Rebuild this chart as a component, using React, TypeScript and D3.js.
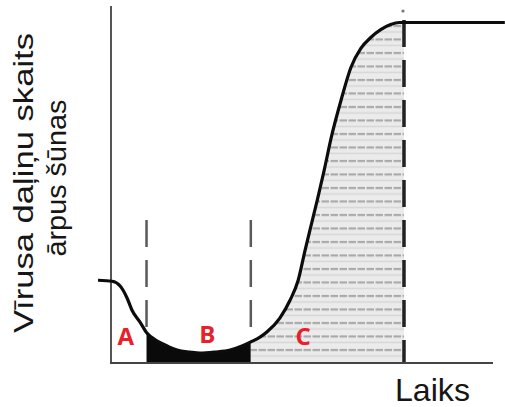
import React from "react";
import * as d3 from "d3";

// Time (x) and virus count outside the cell (y)
const timeValues = [-3.4, 0.3, 2.4, 4.2, 5.5, 7.6, 9.4, 12.0, 14.7, 17.3, 20.7, 23.3, 27.2, 31.2, 34.3, 36.6, 39.0, 40.8, 44.2, 46.9, 49.0, 50.8, 52.4, 54.0, 55.8, 57.8, 60.2, 62.8, 65.4, 68.0, 70.6, 73.2, 75.4, 103.1];
const countValues = [24.3, 24.0, 22.6, 19.1, 15.5, 12.0, 8.8, 6.5, 5.0, 3.8, 3.2, 2.9, 3.2, 3.8, 5.0, 6.2, 7.6, 9.1, 13.2, 18.5, 24.3, 33.1, 40.5, 47.8, 56.6, 66.9, 77.1, 86.8, 92.4, 95.6, 97.9, 99.4, 100, 100];

// Phase boundaries (time) and labels
const phaseNames = ["A", "B", "C"];
const phaseStarts = [0, 9.3, 36.6];
const phaseEnds = [9.3, 36.6, 76.7];
const labelTimes = [3.9, 25.2, 50.3];
const labelCounts = [5.3, 5.9, 5.3];

const yLabelLines = ["Vīrusa daļiņu skaits", "ārpus šūnas"];
const xLabel = "Laiks";

const W = 505;
const H = 407;

export default function App() {
  const x = d3.scaleLinear().domain([0, 100]).range([111, 493]);
  const y = d3.scaleLinear().domain([0, 100]).range([363, 22.5]);

  const pts: [number, number][] = timeValues.map((t, i) => [t, countValues[i]]);
  const line = d3
    .line<[number, number]>()
    .x((d) => x(d[0]))
    .y((d) => y(d[1]))
    .curve(d3.curveMonotoneX);
  const area = d3
    .area<[number, number]>()
    .x((d) => x(d[0]))
    .y0(y(0))
    .y1((d) => y(d[1]))
    .curve(d3.curveMonotoneX);

  const linePath = line(pts) || "";
  const areaPath = area(pts) || "";

  const x0 = x(0);
  const yBase = y(0);

  return (
    <svg
      width={W}
      height={H}
      style={{ position: "absolute", left: 0, top: 0, background: "#fff" }}
      fontFamily="'Liberation Sans', Arial, sans-serif"
    >
      <defs>
        <pattern id="hatch" width="9" height="13.5" patternUnits="userSpaceOnUse" y="22">
          <rect width="9" height="13.5" fill="#ebebeb" />
          <line x1="0" x2="9" y1="4" y2="4" stroke="#a9a9a9" strokeWidth="2.2" strokeDasharray="5,1.5" />
          <line x1="0" x2="9" y1="10" y2="10" stroke="#d6d6d6" strokeWidth="1.5" />
        </pattern>
        {phaseNames.map((p, i) => (
          <clipPath id={`clip-${p}`} key={p}>
            <rect x={x(phaseStarts[i])} y={0} width={x(phaseEnds[i]) - x(phaseStarts[i])} height={H} />
          </clipPath>
        ))}
      </defs>

      {/* phase fills */}
      <path d={areaPath} fill="#0a0a0a" clipPath="url(#clip-B)" />
      <path d={areaPath} fill="url(#hatch)" clipPath="url(#clip-C)" />

      {/* phase divider lines */}
      {[phaseStarts[1], phaseStarts[2]].map((t, i) => (
        <line
          key={i}
          x1={x(t)}
          x2={x(t)}
          y1={220}
          y2={327}
          stroke="#5a5a5a"
          strokeWidth={2.5}
          strokeDasharray="27,13"
        />
      ))}
      <line
        x1={x(phaseEnds[2])}
        x2={x(phaseEnds[2])}
        y1={20}
        y2={yBase}
        stroke="#222"
        strokeWidth={3.5}
        strokeDasharray="27,13"
      />
      <circle cx={x(phaseEnds[2]) - 1} cy={11} r={1.6} fill="#777" />

      {/* axes */}
      <line x1={x0} x2={x0} y1={6} y2={yBase} stroke="#555" strokeWidth={2} />
      <line x1={x0 - 1} x2={x(100)} y1={yBase} y2={yBase} stroke="#444" strokeWidth={2.2} />

      {/* curve */}
      <path d={linePath} fill="none" stroke="#0c0c0c" strokeWidth={3.2} strokeLinejoin="round" />

      {/* phase labels */}
      {phaseNames.map((p, i) => (
        <text
          key={p}
          x={x(labelTimes[i])}
          y={y(labelCounts[i])}
          textAnchor="middle"
          fill="#e8202a"
          fontSize={24}
          fontWeight="bold"
          fontFamily="'Open Sans', 'Liberation Sans', sans-serif"
        >
          {p}
        </text>
      ))}

      {/* axis titles */}
      <text
        transform="translate(33,183) rotate(-90)"
        textAnchor="middle"
        fontSize={27}
        fill="#161616"
        textLength={300}
        lengthAdjust="spacingAndGlyphs"
      >
        {yLabelLines[0]}
      </text>
      <text
        transform="translate(66,178) rotate(-90)"
        textAnchor="middle"
        fontSize={28}
        fill="#161616"
        textLength={157}
        lengthAdjust="spacingAndGlyphs"
      >
        {yLabelLines[1]}
      </text>
      <text x={395} y={401} fontSize={32} fill="#161616" textLength={75} lengthAdjust="spacingAndGlyphs">
        {xLabel}
      </text>
    </svg>
  );
}
